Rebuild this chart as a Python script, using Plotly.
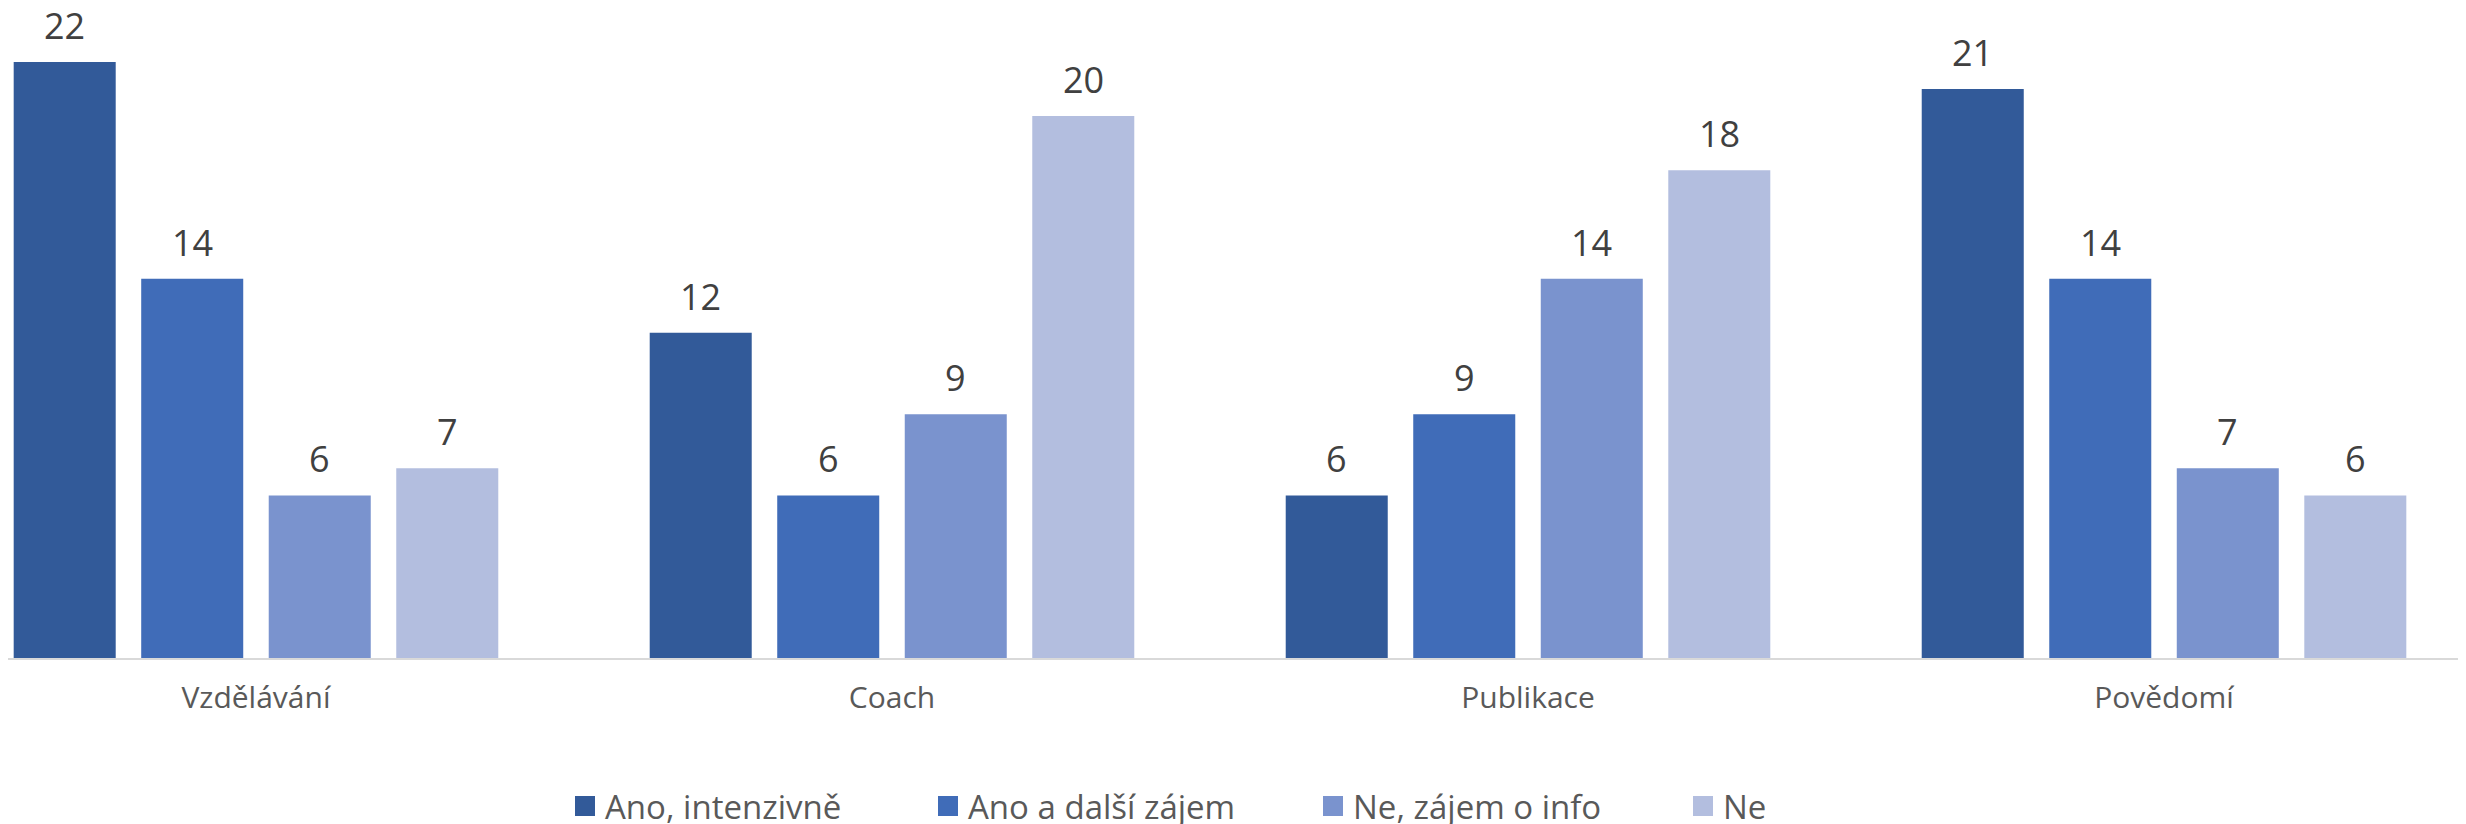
import plotly.graph_objects as go

categories = ["Vzdělávání", "Coach", "Publikace", "Povědomí"]
series_names = ["Ano, intenzivně", "Ano a další zájem", "Ne, zájem o info", "Ne"]
ano_intenzivne = [22, 12, 6, 21]
ano_dalsi_zajem = [14, 6, 9, 14]
ne_zajem_info = [6, 9, 14, 7]
ne = [7, 20, 18, 6]
colors = ["#325A99", "#406CB8", "#7A93CE", "#B3BEDF"]
legend_widths = [318, 340, 325, 60]

series_values = [ano_intenzivne, ano_dalsi_zajem, ne_zajem_info, ne]

# the page body has an 8px default margin, so the figure is laid out 8px smaller
W, H = 2458, 824
PLOT_H = 650
bargap = 0.198
bargroupgap = 0.2
xpos = list(range(len(categories)))

fig = go.Figure()
for name, vals, col in zip(series_names, series_values, colors):
    fig.add_trace(go.Bar(x=xpos, y=vals, name=name, showlegend=False,
                         marker=dict(color=col, line=dict(width=0))))

# legend proxies (larger square swatches)
for name, col, lw in zip(series_names, colors, legend_widths):
    fig.add_trace(go.Scatter(x=[None], y=[None], mode="markers", name=name,
                             legendwidth=lw, hoverinfo="skip",
                             marker=dict(symbol="square", size=16, color=col,
                                         line=dict(width=4, color=col))))

# data labels above bars
n = len(series_values)
slot = (1 - bargap) / n
for j, vals in enumerate(series_values):
    for i, v in enumerate(vals):
        fig.add_annotation(x=xpos[i] + (j - (n - 1) / 2) * slot, y=v, text=str(v),
                           showarrow=False, yanchor="bottom", yshift=10,
                           font=dict(family="Open Sans", size=36, color="#404040"))

fig.update_layout(
    width=W, height=H,
    margin=dict(l=0, r=0, t=0, b=H - PLOT_H, pad=0, autoexpand=False),
    barmode="group", bargap=bargap, bargroupgap=bargroupgap,
    plot_bgcolor="white", paper_bgcolor="white",
    showlegend=True,
    legend=dict(orientation="h", x=557 / W, xanchor="left", y=-(798 - PLOT_H) / PLOT_H,
                yanchor="middle", itemsizing="trace",
                font=dict(family="Open Sans", size=33, color="#595959"),
                bgcolor="rgba(0,0,0,0)"),
    xaxis=dict(range=[-0.3899, 3.4748], tickmode="array", tickvals=xpos, ticktext=categories,
               showline=True, linecolor="#D9D9D9", linewidth=2, showgrid=False, zeroline=False,
               ticks="", ticklabelstandoff=12,
               tickfont=dict(family="Open Sans", size=30, color="#595959")),
    yaxis=dict(range=[0, 23.99], visible=False, showgrid=False, zeroline=False),
)

fig.write_html("out.html")
